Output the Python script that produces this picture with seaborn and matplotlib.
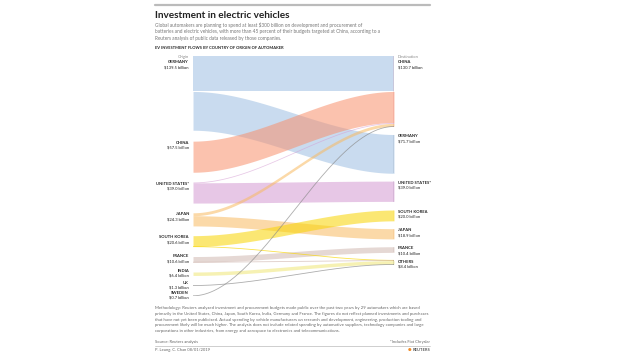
import numpy as np
import seaborn as sns
import matplotlib.pyplot as plt

# node data (billions of dollars)
origins = ["GERMANY", "CHINA", "UNITED STATES*", "JAPAN", "SOUTH KOREA",
           "FRANCE", "INDIA", "UK", "SWEDEN"]
origin_totals = [139.5, 57.5, 39.0, 24.3, 20.6, 10.6, 6.4, 1.3, 0.7]

destinations = ["CHINA", "GERMANY", "UNITED STATES*", "SOUTH KOREA", "JAPAN",
                "FRANCE", "OTHERS"]
destination_totals = [130.7, 71.7, 39.0, 20.0, 18.9, 10.4, 8.4]

# flows origin -> destination
flow_source = ["GERMANY", "GERMANY", "CHINA", "UNITED STATES*", "UNITED STATES*",
               "JAPAN", "JAPAN", "SOUTH KOREA", "SOUTH KOREA", "FRANCE", "FRANCE",
               "INDIA", "UK", "SWEDEN"]
flow_target = ["CHINA", "GERMANY", "CHINA", "CHINA", "UNITED STATES*",
               "CHINA", "JAPAN", "SOUTH KOREA", "OTHERS", "FRANCE", "OTHERS",
               "OTHERS", "OTHERS", "CHINA"]
flow_value = [65.6, 71.7, 57.5, 1.5, 37.5, 5.4, 18.9, 20.0, 0.6, 10.4, 0.2,
              6.4, 1.3, 0.7]

flow_colors = {"GERMANY": "#9dbfe2", "CHINA": "#f8906c", "UNITED STATES*": "#d49ad2",
               "JAPAN": "#f8ba61", "SOUTH KOREA": "#f8d500", "FRANCE": "#d1b8b1",
               "INDIA": "#efe776", "UK": "#8a8a8a", "SWEDEN": "#8a8a8a"}
origin_bar = {"GERMANY": "#44546f", "CHINA": "#c62a3b", "UNITED STATES*": "#4e2a5e",
              "JAPAN": "#e07b22", "SOUTH KOREA": "#f0cf1c", "FRANCE": "#5a4a48",
              "INDIA": "#e8e070", "UK": "#999999", "SWEDEN": "#999999"}
dest_bar = {"CHINA": "#c62a3b", "GERMANY": "#44546f", "UNITED STATES*": "#4e2a5e",
            "SOUTH KOREA": "#f0cf1c", "JAPAN": "#e07b22", "FRANCE": "#8a7a76",
            "OTHERS": "#111111"}

sns.set_style("white")
plt.rcParams["font.family"] = ["Lato", "DejaVu Sans"]

fig = plt.figure(figsize=(6.2, 3.55), dpi=100)
W, H = 620, 355


def fy(px):
    return 1 - px / H


# layout of nodes
gap_l, gap_r = 18.0, 14.5
span = sum(origin_totals) + gap_l * (len(origins) - 1)


def tops(totals, gap):
    out, y = [], 0.0
    for v in totals:
        out.append(y)
        y += v + gap
    return out


o_top = dict(zip(origins, tops(origin_totals, gap_l)))
d_top = dict(zip(destinations, tops(destination_totals, gap_r)))
o_tot = dict(zip(origins, origin_totals))
d_tot = dict(zip(destinations, destination_totals))

ax = fig.add_axes([193 / W, 1 - 296 / H, (394 - 193) / W, 240 / H])
ax.set_xlim(0, 1)
ax.set_ylim(span, 0)
ax.axis("off")

# stack flows at both ends
flows = list(zip(flow_source, flow_target, flow_value))
o_off = {k: o_top[k] for k in origins}
d_off = {k: d_top[k] for k in destinations}
src_pos, dst_pos = {}, {}
for i in sorted(range(len(flows)), key=lambda i: (origins.index(flows[i][0]), destinations.index(flows[i][1]))):
    s, t, v = flows[i]
    src_pos[i] = o_off[s]
    o_off[s] += v
for i in sorted(range(len(flows)), key=lambda i: (destinations.index(flows[i][1]), origins.index(flows[i][0]))):
    s, t, v = flows[i]
    dst_pos[i] = d_off[t]
    d_off[t] += v

x = np.linspace(0, 1, 200)
ease = 3 * x ** 2 - 2 * x ** 3
for i, (s, t, v) in enumerate(flows):
    y0 = src_pos[i] + (dst_pos[i] - src_pos[i]) * ease
    if v < 1.5:
        ax.plot(x, y0 + v / 2, color=flow_colors[s], lw=0.6, alpha=0.7)
    else:
        ax.fill_between(x, y0, y0 + v, color=flow_colors[s], alpha=0.55, lw=0)

# node bars
for n in origins:
    ax.vlines(-0.004, o_top[n], o_top[n] + max(o_tot[n], 0.6), color=origin_bar[n], lw=1.4)
for n in destinations:
    ax.vlines(1.004, d_top[n], d_top[n] + d_tot[n], color=dest_bar[n], lw=1.6)

# node labels
lab = dict(fontsize=3.0, color="#222222")
for n in origins:
    top, tot = o_top[n], o_tot[n]
    yn = min(top + 3, top + tot / 2 - 5.5)
    if n == "GERMANY":
        ax.text(-0.02, top + 2, "Origin", ha="right", va="center", fontsize=3.0, color="#888888")
        yn = top + 12
    ax.text(-0.02, yn, n, ha="right", va="center", fontweight="bold", **lab)
    ax.text(-0.02, yn + 9.5, f"${tot:.1f} billion", ha="right", va="center", **lab)
for n in destinations:
    top, tot = d_top[n], d_tot[n]
    yn = top + 3
    if n == "CHINA":
        ax.text(1.02, top + 2, "Destination", ha="left", va="center", fontsize=3.0, color="#888888")
        yn = top + 12
    ax.text(1.02, yn, n, ha="left", va="center", fontweight="bold", **lab)
    ax.text(1.02, yn + 9.5, f"${tot:.1f} billion", ha="left", va="center", **lab)

# header
fig.add_artist(plt.Line2D([155 / W, 430 / W], [fy(5), fy(5)], color="#bbbbbb", lw=1.6))
fig.text(155 / W, fy(15), "Investment in electric vehicles", fontsize=7.2,
         fontweight="bold", color="#222222", va="center")
sub = ["Global automakers are planning to spend at least $300 billion on development and procurement of",
       "batteries and electric vehicles, with more than 45 percent of their budgets targeted at China, according to a",
       "Reuters analysis of public data released by those companies."]
for k, line in enumerate(sub):
    fig.text(155 / W, fy(25.5 + 6.3 * k), line, fontsize=3.45, color="#777777", va="center")
fig.text(155 / W, fy(48), "EV INVESTMENT FLOWS BY COUNTRY OF ORIGIN OF AUTOMAKER",
         fontsize=2.9, fontweight="bold", color="#222222", va="center")

# footer
notes = ["Methodology: Reuters analyzed investment and procurement budgets made public over the past two years by 29 automakers which are based",
         "primarily in the United States, China, Japan, South Korea, India, Germany and France. The figures do not reflect planned investments and purchases",
         "that have not yet been publicized. Actual spending by vehicle manufacturers on research and development, engineering, production tooling and",
         "procurement likely will be much higher. The analysis does not include related spending by automotive suppliers, technology companies and large",
         "corporations in other industries, from energy and aerospace to electronics and telecommunications."]
for k, line in enumerate(notes):
    fig.text(155 / W, fy(308 + 5.8 * k), line, fontsize=3.1, color="#666666", va="center")
fig.text(155 / W, fy(342), "Source: Reuters analysis", fontsize=3.0, color="#666666", va="center")
fig.text(430 / W, fy(342), "*Includes Fiat Chrysler", fontsize=3.0, color="#666666", va="center", ha="right")
fig.add_artist(plt.Line2D([155 / W, 430 / W], [fy(346), fy(346)], color="#bbbbbb", lw=0.5))
fig.text(155 / W, fy(350), "P. Leung, C. Chan 08/01/2019", fontsize=3.0, color="#666666", va="center")
fig.text(430 / W, fy(350), "REUTERS", fontsize=3.0, fontweight="bold", color="#555555", va="center", ha="right")
fig.text(411 / W, fy(350), "●", fontsize=3.0, color="#f08a24", va="center", ha="right",
         family=["DejaVu Sans"])

fig.savefig("out.png", dpi=100, facecolor="white")
